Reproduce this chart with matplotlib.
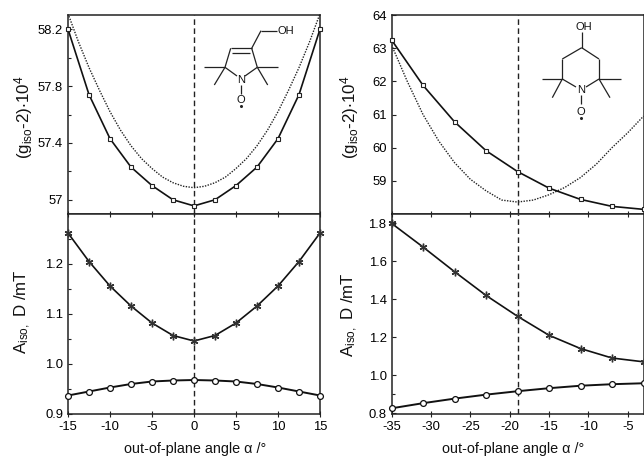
import matplotlib
matplotlib.use("Agg")
import matplotlib.pyplot as plt
import numpy as np

plt.rcParams['font.family'] = ['Liberation Sans', 'DejaVu Sans']
plt.rcParams['mathtext.default'] = 'regular'
plt.rcParams['axes.unicode_minus'] = False

# left column
x_left = [-15, -12.5, -10, -7.5, -5, -2.5, 0, 2.5, 5, 7.5, 10, 12.5, 15]
g_left = [58.2, 57.74, 57.43, 57.23, 57.10, 57.0, 56.957, 57.0, 57.10, 57.23, 57.43, 57.74, 58.2]
x_left_dot = [-15, -13.75, -12.5, -11.25, -10, -8.75, -7.5, -6.25, -5, -3.75, -2.5, -1.25, 0,
              1.25, 2.5, 3.75, 5, 6.25, 7.5, 8.75, 10, 11.25, 12.5, 13.75, 15]
g_left_dot = [58.31, 58.11, 57.93, 57.77, 57.62, 57.49, 57.38, 57.29, 57.22, 57.16, 57.12, 57.095, 57.085,
              57.095, 57.12, 57.16, 57.22, 57.29, 57.38, 57.49, 57.62, 57.77, 57.93, 58.11, 58.31]
d_left = [1.262, 1.205, 1.156, 1.116, 1.082, 1.057, 1.046, 1.057, 1.082, 1.116, 1.156, 1.205, 1.262]
a_left = [0.937, 0.945, 0.953, 0.96, 0.965, 0.967, 0.968, 0.967, 0.965, 0.96, 0.953, 0.945, 0.937]

# right column
x_right = [-35, -31, -27, -23, -19, -15, -11, -7, -3]
g_right = [63.25, 61.88, 60.78, 59.91, 59.28, 58.78, 58.44, 58.23, 58.14]
x_right_dot = [-35, -33, -31, -29, -27, -25, -23, -21, -19, -17, -15, -13, -11, -9, -7, -5, -3]
g_right_dot = [63.1, 62.0, 61.0, 60.2, 59.55, 59.05, 58.7, 58.42, 58.36, 58.42, 58.58, 58.8, 59.1, 59.5, 60.0, 60.45, 60.95]
d_right = [1.80, 1.675, 1.545, 1.42, 1.31, 1.21, 1.14, 1.09, 1.07]
a_right = [0.825, 0.852, 0.876, 0.897, 0.915, 0.931, 0.944, 0.952, 0.957]

W, H = 644, 458
FS = 9.4
fig = plt.figure(figsize=(W/100, H/100), dpi=100)

def make_ax(x0, x1, y0, y1):
    # pixel box, y measured from the top
    ax = fig.add_axes([x0/W, 1-y1/H, (x1-x0)/W, (y1-y0)/H])
    for s in ax.spines.values():
        s.set_linewidth(1.1)
        s.set_color('#222222')
    ax.tick_params(which='both', direction='in', labelsize=FS, width=0.8, color='#222222', pad=3.5)
    ax.tick_params(which='major', length=3)
    ax.tick_params(which='minor', length=2)
    return ax

def squares(ax, x, y, xd, yd, vline):
    ax.axvline(vline, color='#222222', lw=1.0, ls=(0, (4, 2.5)), zorder=1)
    ax.plot(xd, yd, color='#222222', lw=1.0, ls=(0, (1, 1)), zorder=2)
    ax.plot(x, y, color='#111111', lw=1.2, marker='s', ms=3.4, mfc='white', mec='#222222', mew=0.8, clip_on=False, zorder=3)

def lower(ax, x, d, a, vline):
    ax.axvline(vline, color='#222222', lw=1.0, ls=(0, (4, 2.5)), zorder=1)
    ax.plot(x, d, color='#111111', lw=1.2, marker=(6, 2, 0), ms=5.5, mec='#333333', mew=1.0, clip_on=False, zorder=3)
    ax.plot(x, a, color='#111111', lw=1.4, marker='o', ms=4.2, mfc='white', mec='#111111', mew=0.9, clip_on=False, zorder=3)

# left top
ax = make_ax(68, 320, 15, 214)
squares(ax, x_left, g_left, x_left_dot, g_left_dot, 0)
ax.set_xlim(-15, 15)
ax.set_ylim(56.9, 58.3)
ax.set_xticks([])
ax.set_yticks([57, 57.4, 57.8, 58.2])
ax.set_yticklabels(['57', '57.4', '57.8', '58.2'])
ax.set_yticks([57.2, 57.6, 58.0], minor=True)

# left bottom
ax = make_ax(68, 320, 214, 414)
lower(ax, x_left, d_left, a_left, 0)
ax.set_xlim(-15, 15)
ax.set_ylim(0.9, 1.3)
ax.set_xticks(np.arange(-15, 16, 5))
ax.set_yticks([0.9, 1.0, 1.1, 1.2])
ax.set_yticklabels(['0.9', '1.0', '1.1', '1.2'])
ax.set_yticks([0.95, 1.05, 1.15, 1.25], minor=True)
ax.tick_params(axis='x', which='major', top=True, direction='inout', length=5)
ax.tick_params(axis='x', pad=2.5)

# right top
ax = make_ax(391.5, 643.5, 15, 214)
squares(ax, x_right, g_right, x_right_dot, g_right_dot, -19)
ax.set_xlim(-35, -3)
ax.set_ylim(58, 64)
ax.set_xticks([])
ax.set_yticks([59, 60, 61, 62, 63, 64])

# right bottom
ax = make_ax(391.5, 643.5, 214, 414)
lower(ax, x_right, d_right, a_right, -19)
ax.set_xlim(-35, -3)
ax.set_ylim(0.795, 1.849)
ax.set_xticks(np.arange(-35, -4, 5))
ax.set_yticks([0.8, 1.0, 1.2, 1.4, 1.6, 1.8])
ax.set_yticklabels(['0.8', '1.0', '1.2', '1.4', '1.6', '1.8'])
ax.set_yticks([0.9], minor=True)
ax.tick_params(axis='x', which='major', top=True, direction='inout', length=5)
ax.tick_params(axis='x', pad=2.5)

# axis titles
LS = 12.2
fig.text(24/W, 1-117/H, r'(g$_{iso}$-2)$\cdot$10$^4$', rotation=90, fontsize=LS, ha='center', va='center', color='#111111')
fig.text(350/W, 1-117/H, r'(g$_{iso}$-2)$\cdot$10$^4$', rotation=90, fontsize=LS, ha='center', va='center', color='#111111')
fig.text(23/W, 1-312/H, r'A$_{iso,}$ D /mT', rotation=90, fontsize=LS, ha='center', va='center', color='#111111')
fig.text(350/W, 1-315/H, r'A$_{iso,}$ D /mT', rotation=90, fontsize=LS, ha='center', va='center', color='#111111')
fig.text(195/W, 1-449/H, 'out-of-plane angle α /°', fontsize=10.4, ha='center', va='center', color='#111111')
fig.text(513/W, 1-449/H, 'out-of-plane angle α /°', fontsize=10.4, ha='center', va='center', color='#111111')

# molecule sketches, overlay in pixel coordinates
ov = fig.add_axes([0, 0, 1, 1], facecolor='none', zorder=5)
ov.set_xlim(0, W)
ov.set_ylim(H, 0)
ov.axis('off')

bonds1 = [
    ((237, 76), (225, 67.3)), ((245, 76), (257.3, 67.3)),
    ((225, 67.3), (230.7, 48.3)), ((257.3, 67.3), (251.7, 48.3)),
    ((230.7, 48.3), (251.7, 48.3)), ((232, 52.7), (250, 52.7)),
    ((251.7, 48.3), (261, 30.7)), ((261, 30.7), (277, 30.7)),
    ((204, 67.3), (225, 67.3)), ((225, 67.3), (214.3, 85)),
    ((257.3, 67.3), (277.7, 67.3)), ((257.3, 67.3), (267.7, 85)),
    ((240.7, 85), (240.7, 94)),
]
bonds2 = [
    ((581.7, 31.7), (581.7, 47.7)), ((581.7, 47.7), (562.3, 59)), ((581.7, 47.7), (599, 59)),
    ((562.3, 59), (562.3, 79)), ((599, 59), (599, 79)),
    ((562.3, 79), (576, 87)), ((599, 79), (586, 87)),
    ((541.7, 79), (562.3, 79)), ((562.3, 79), (552.3, 97.7)),
    ((599, 79), (620.7, 79)), ((599, 79), (610, 97.7)),
    ((581, 95), (581, 104.3)),
]
for b in bonds1 + bonds2:
    ov.plot([b[0][0], b[1][0]], [b[0][1], b[1][1]], color='#222222', lw=0.9, solid_capstyle='butt')

for s, px, py in [('OH', 286, 30.7), ('N', 240.7, 80), ('O', 240.7, 100), ('OH', 584.3, 26.7), ('N', 581, 90), ('O', 581, 111.7)]:
    ov.text(px, py, s, fontsize=8, ha='center', va='center', color='#111111')
ov.plot([240.7, 581], [105.7, 117.7], ls='none', marker='o', ms=1.2, color='#222222')

fig.savefig('out.png', dpi=100)
